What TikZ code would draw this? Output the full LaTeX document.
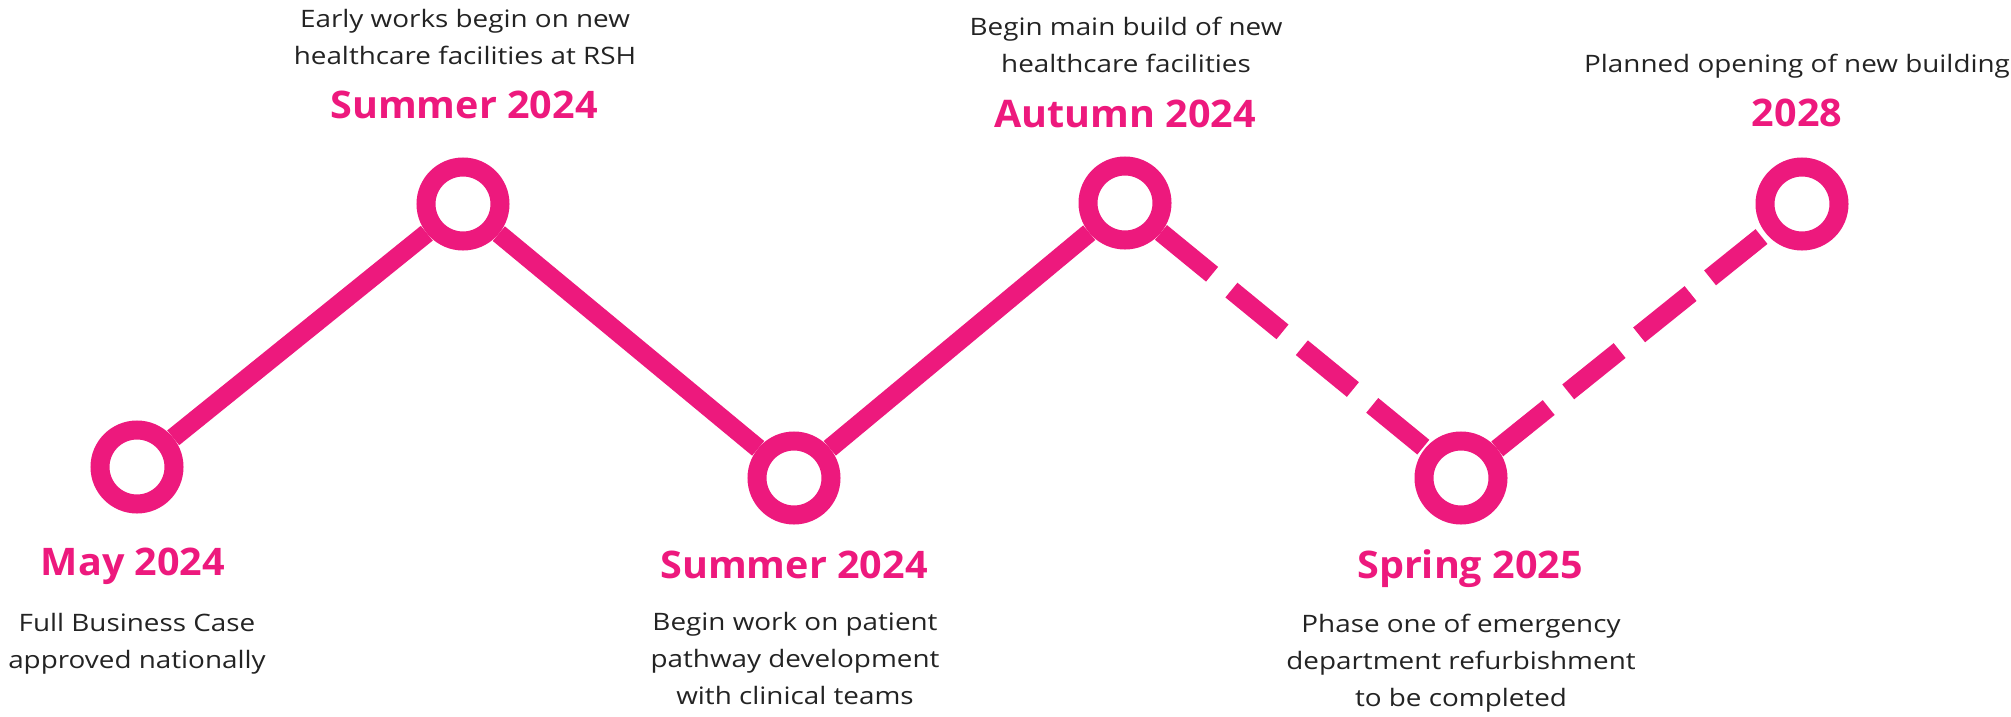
\documentclass[tikz,border=0pt]{standalone}
\usepackage{fontspec}
\setmainfont{Open Sans}
\newfontfamily\whatfont{Open Sans}[FakeStretch=1.16]
\newfontfamily\whenfont{Open Sans}[FakeStretch=1.04]
\usepackage{tikz}
\usetikzlibrary{positioning}
\definecolor{rosepink}{RGB}{237,25,125}
\definecolor{inkgrey}{RGB}{35,35,35}

\tikzset{
  milestone/.style={circle, draw=rosepink, fill=white, line width=19pt, minimum size=74pt, inner sep=0pt},
  track/.style={draw=rosepink, line width=19pt},
  plannedtrack/.style={track, dash pattern=on 66pt off 25pt},
  when/.style={text=rosepink, font=\whenfont\fontsize{38}{40}\selectfont\bfseries, anchor=base, inner sep=0pt},
  what/.style={text=inkgrey, font=\whatfont\fontsize{24}{37}\selectfont, align=center, anchor=north, inner sep=0pt}
}

\begin{document}
\begin{tikzpicture}[x=1pt,y=-1pt]
\useasboundingbox (0,0) rectangle (2011,717);

\node[milestone] (may) at (137,467) {};
\node[milestone] (early) at (463,204) {};
\node[milestone] (pathway) at (794,478) {};
\node[milestone] (build) at (1125,203) {};
\node[milestone] (phase) at (1461,478) {};
\node[milestone] (opening) at (1802,204) {};

\draw[track] (may) -- (early) -- (pathway) -- (build);
\draw[plannedtrack] (build) -- (phase);
\draw[plannedtrack] (phase) -- (opening);

\node[when] (mayd) at (133,575) {May 2024};
\node[what] (mayt) at (137,613) {Full Business Case\\approved nationally};

\node[when] (earlyd) at (464,118) {Summer 2024};
\node[what] (earlyt) at (465,9) {Early works begin on new\\healthcare facilities at RSH};

\node[when] (pathwayd) at (794,578) {Summer 2024};
\node[what] (pathwayt) at (795,612) {Begin work on patient\\pathway development\\with clinical teams};

\node[when] (buildd) at (1125,127) {Autumn 2024};
\node[what] (buildt) at (1126,17) {Begin main build of new\\healthcare facilities};

\node[when] (phased) at (1470,578) {Spring 2025};
\node[what] (phaset) at (1461,614) {Phase one of emergency\\department refurbishment\\to be completed};

\node[when] (openingd) at (1797,126) {2028};
\node[what] (openingt) at (1797,54) {Planned opening of new building};

\end{tikzpicture}
\end{document}
